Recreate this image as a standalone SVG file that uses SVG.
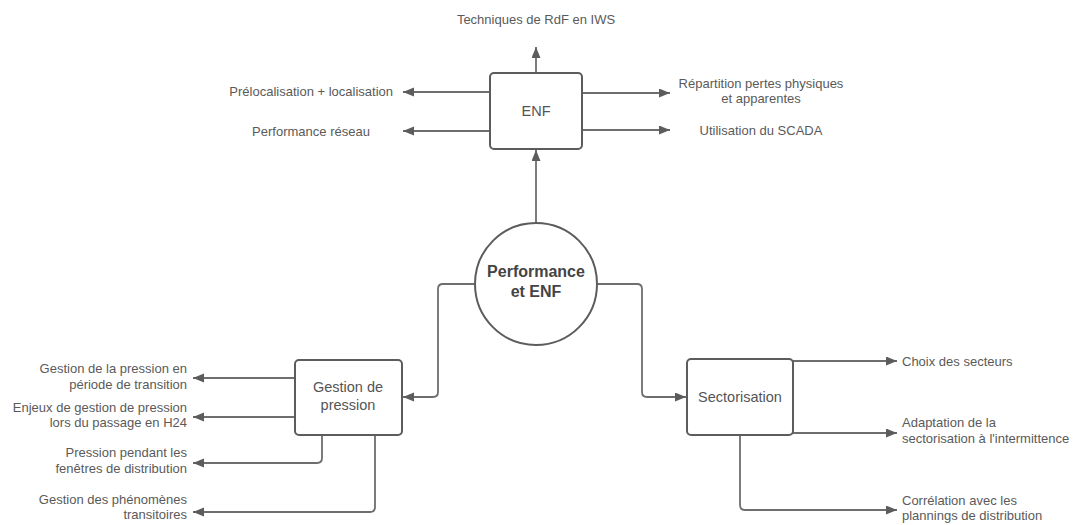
<svg xmlns="http://www.w3.org/2000/svg" width="1078" height="525" viewBox="0 0 1078 525">
<defs>
<marker id="arr" markerUnits="userSpaceOnUse" markerWidth="12" markerHeight="10" refX="11" refY="4.5" orient="auto">
<path d="M0,0 L11,4.5 L0,9 z" fill="#5c5c5c"/>
</marker>
<style>
.box{fill:#fff;stroke:#5c5c5c;stroke-width:2}
.ln{fill:none;stroke:#6e6e6e;stroke-width:1.8;marker-end:url(#arr)}
.lb{font-family:"Liberation Sans",Arial,sans-serif;font-size:13px;fill:#5a5a5a}
.nt{font-family:"Liberation Sans",Arial,sans-serif;font-size:14.5px;fill:#555;text-anchor:middle}
.bt{font-family:"Liberation Sans",Arial,sans-serif;font-size:16px;font-weight:bold;fill:#444;text-anchor:middle}
</style>
</defs>
<rect width="1078" height="525" fill="#fff"/>
<g id="connectors">
<path class="ln" d="M536,73 L536,47"/>
<path class="ln" d="M490,92 L403,92"/>
<path class="ln" d="M490,131 L403,131"/>
<path class="ln" d="M582,93 L670,93"/>
<path class="ln" d="M582,130 L670,130"/>
<path class="ln" d="M536,223 L536,150"/>
<path class="ln" d="M475,284 L443,284 Q438,284 438,289 L438,392 Q438,397 433,397 L403,397"/>
<path class="ln" d="M597,284 L637,284 Q642,284 642,289 L642,392 Q642,397 647,397 L686,397"/>
<path class="ln" d="M295,378 L193,378"/>
<path class="ln" d="M295,417 L193,417"/>
<path class="ln" d="M322,435 L322,458 Q322,463 317,463 L193,463"/>
<path class="ln" d="M375,435 L375,507 Q375,512 370,512 L193,512"/>
<path class="ln" d="M793,361 L897,361"/>
<path class="ln" d="M793,433 L897,433"/>
<path class="ln" d="M740,435 L740,505 Q740,510 745,510 L897,510"/>
</g>
<g id="enf">
<rect class="box" x="490" y="73" width="92" height="76" rx="4"/>
<text class="nt" x="536" y="116">ENF</text>
</g>
<g id="performance">
<circle class="box" cx="536" cy="284" r="61"/>
<text class="bt" x="536" y="277">Performance</text>
<text class="bt" x="536" y="297">et ENF</text>
</g>
<g id="gestion">
<rect class="box" x="295" y="360" width="107" height="75" rx="4"/>
<text class="nt" x="348" y="392">Gestion de</text>
<text class="nt" x="348" y="410">pression</text>
</g>
<g id="sectorisation">
<rect class="box" x="687" y="359" width="106" height="76" rx="4"/>
<text class="nt" x="740" y="402">Sectorisation</text>
</g>
<g id="labels-enf">
<text class="lb" x="536" y="24" text-anchor="middle">Techniques de RdF en IWS</text>
<text class="lb" x="393" y="96" text-anchor="end">Prélocalisation + localisation</text>
<text class="lb" x="311" y="136" text-anchor="middle">Performance réseau</text>
<text class="lb" x="761" y="88" text-anchor="middle">Répartition pertes physiques</text>
<text class="lb" x="761" y="103" text-anchor="middle">et apparentes</text>
<text class="lb" x="761" y="135" text-anchor="middle">Utilisation du SCADA</text>
</g>
<g id="labels-gestion">
<text class="lb" x="187" y="373" text-anchor="end">Gestion de la pression en</text>
<text class="lb" x="187" y="389" text-anchor="end">période de transition</text>
<text class="lb" x="187" y="412" text-anchor="end">Enjeux de gestion de pression</text>
<text class="lb" x="187" y="427" text-anchor="end">lors du passage en H24</text>
<text class="lb" x="187" y="457" text-anchor="end">Pression pendant les</text>
<text class="lb" x="187" y="473" text-anchor="end">fenêtres de distribution</text>
<text class="lb" x="187" y="504" text-anchor="end">Gestion des phénomènes</text>
<text class="lb" x="187" y="519" text-anchor="end">transitoires</text>
</g>
<g id="labels-sectorisation">
<text class="lb" x="902" y="366">Choix des secteurs</text>
<text class="lb" x="902" y="427">Adaptation de la</text>
<text class="lb" x="902" y="443">sectorisation à l'intermittence</text>
<text class="lb" x="902" y="505">Corrélation avec les</text>
<text class="lb" x="902" y="520">plannings de distribution</text>
</g>
</svg>
